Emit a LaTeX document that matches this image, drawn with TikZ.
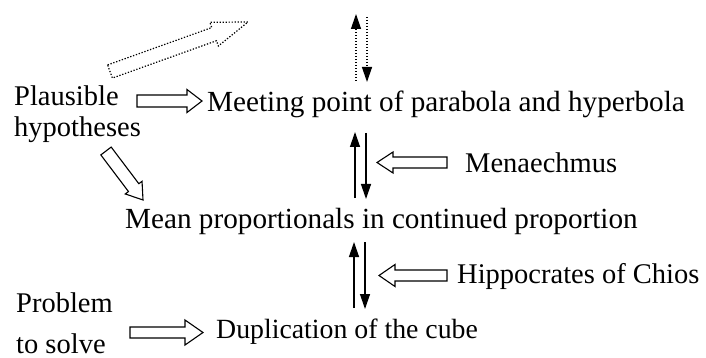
\documentclass[tikz,border=0pt]{standalone}
\usepackage{fontspec}
\setmainfont{Liberation Serif}
\usetikzlibrary{calc,arrows.meta}
\tikzset{
  lbl/.style={inner sep=0pt, anchor=base west, font=\fontsize{28.5}{33}\selectfont},
  lblL/.style={lbl, font=\fontsize{29.2}{33}\selectfont},
  lblS/.style={lbl, font=\fontsize{27.8}{33}\selectfont},
  fat/.style={draw=black, line width=1.1pt, line join=miter, fill=white},
  fatdot/.style={fat, line width=1.2pt, dash pattern=on 1.3pt off 1.7pt},
  vthin/.style={line width=1.3pt, -{Triangle[length=15pt,width=10pt]}},
  vdot/.style={vthin, dash pattern=on 1.4pt off 1.6pt},
}
% #1 style, #2 tail, #3 tip, #4 shaft half width, #5 head half width, #6 head length
\newcommand{\fatarrow}[6][fat]{%
  \path (#3) coordinate (fa-tip) ($(#3)!#6!(#2)$) coordinate (fa-base);
  \draw[#1] ($(#2)!#4!90:(fa-tip)$) -- ($(fa-base)!#4!90:(fa-tip)$)
    -- ($(fa-base)!#5!90:(fa-tip)$) -- (fa-tip)
    -- ($(fa-base)!#5!-90:(fa-tip)$) -- ($(fa-base)!#4!-90:(fa-tip)$)
    -- ($(#2)!#4!-90:(fa-tip)$) -- cycle;}
\begin{document}
\begin{tikzpicture}[x=1pt,y=-1pt]
\useasboundingbox (0,0) rectangle (706,358);
% texts
\node[lbl] (plaus) at (14,106) {Plausible};
\node[lbl] (hypo) at (14,137) {hypotheses};
\node[lblL] (meet) at (207,112) {Meeting point of parabola and hyperbola};
\node[lbl] (menae) at (465,173) {Menaechmus};
\node[lblL] (mean) at (125,228) {Mean proportionals in continued proportion};
\node[lbl] (hipp) at (457,283) {Hippocrates of Chios};
\node[lbl] (prob) at (16,312) {Problem};
\node[lbl] (solve) at (16,353) {to solve};
\node[lblS] (dup) at (216,338) {Duplication of the cube};
% block arrow end points
\coordinate (pa1) at (137,101);   \coordinate (pa2) at (202,101);
\coordinate (ha1) at (106,151);   \coordinate (ha2) at (143,200);
\coordinate (da1) at (110,71.5);  \coordinate (da2) at (248,22);
\coordinate (ma1) at (447,162.5); \coordinate (ma2) at (377,162.5);
\coordinate (ca1) at (447,275.5); \coordinate (ca2) at (379,275.5);
\coordinate (ra1) at (130,332.5); \coordinate (ra2) at (203,332.5);
\fatarrow{pa1}{pa2}{6pt}{11.5pt}{15pt}
\fatarrow{ha1}{ha2}{6.5pt}{10.5pt}{15.5pt}
\fatarrow[fatdot]{da1}{da2}{7pt}{12.6pt}{36pt}
\fatarrow{ma1}{ma2}{5.5pt}{10.5pt}{16pt}
\fatarrow{ca1}{ca2}{5.5pt}{11pt}{16pt}
\fatarrow{ra1}{ra2}{5.5pt}{12.5pt}{18pt}
% vertical arrows
\coordinate (t1a) at (356,81);  \coordinate (t1b) at (356,14);
\coordinate (t2a) at (367,17);  \coordinate (t2b) at (367,82);
\coordinate (m1a) at (355,198); \coordinate (m1b) at (355,132);
\coordinate (m2a) at (366,133); \coordinate (m2b) at (366,199);
\coordinate (b1a) at (354,308); \coordinate (b1b) at (354,242);
\coordinate (b2a) at (365,242); \coordinate (b2b) at (365,309);
\draw[vdot] (t1a) -- (t1b);
\draw[vdot] (t2a) -- (t2b);
\draw[vthin] (m1a) -- (m1b);
\draw[vthin] (m2a) -- (m2b);
\draw[vthin] (b1a) -- (b1b);
\draw[vthin] (b2a) -- (b2b);
\end{tikzpicture}
\end{document}
